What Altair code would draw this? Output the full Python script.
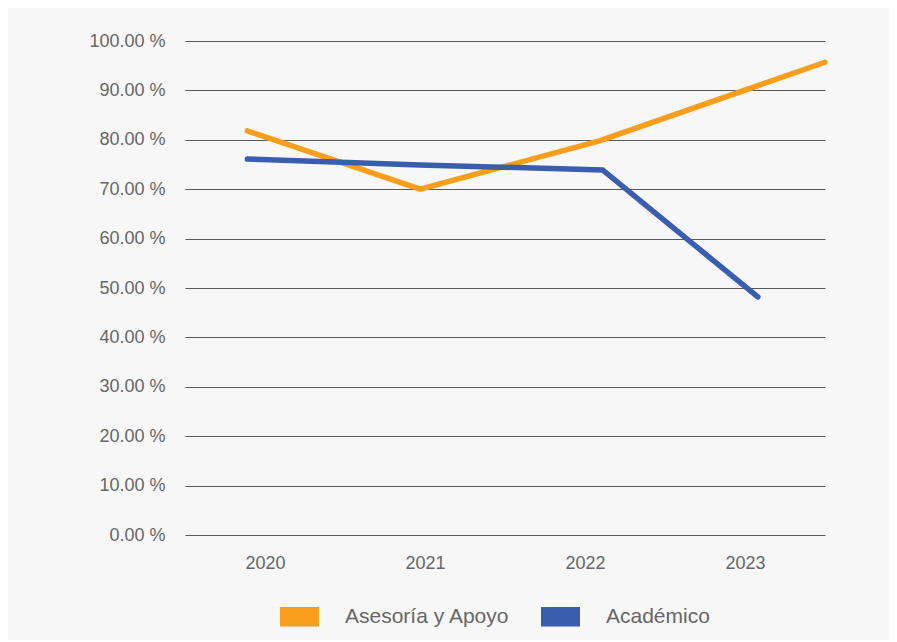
import altair as alt
import pandas as pd

# ---- data ----
years = [2020, 2021, 2022, 2023]
series_names = ["Asesoría y Apoyo", "Académico"]
series_colors = ["#F99D1C", "#3A5DAE"]

# x values as drawn in the reference (lines are slightly offset from the year labels)
asesoria_x = [2019.89, 2020.97, 2022.09, 2023.5]
asesoria_y = [81.8, 70.0, 79.8, 95.7]
academico_x = [2019.89, 2020.97, 2022.11, 2023.08]
academico_y = [76.1, 74.9, 73.9, 48.2]

y_ticks = [0, 10, 20, 30, 40, 50, 60, 70, 80, 90, 100]

rows = []
for i, (xv, yv) in enumerate(zip(asesoria_x, asesoria_y)):
    rows.append({"serie": series_names[0], "x": xv, "y": yv, "ord": i})
for i, (xv, yv) in enumerate(zip(academico_x, academico_y)):
    rows.append({"serie": series_names[1], "x": xv, "y": yv, "ord": i})
df = pd.DataFrame(rows)

FONT = "Liberation Sans"
GRAY = "#666666"

chart = (
    alt.Chart(df)
    .mark_line(strokeWidth=5.5, strokeCap="round", strokeJoin="miter")
    .encode(
        x=alt.X(
            "x:Q",
            scale=alt.Scale(domain=[2019.5, 2023.5], nice=False, zero=False),
            axis=alt.Axis(
                values=years,
                format="d",
                title=None,
                grid=False,
                domain=False,
                ticks=False,
                labelPadding=19,
                labelFontSize=18,
                labelColor=GRAY,
                labelFont=FONT,
            ),
        ),
        y=alt.Y(
            "y:Q",
            scale=alt.Scale(domain=[0, 100], nice=False),
            axis=alt.Axis(
                values=y_ticks,
                labelExpr="format(datum.value, '.2f') + ' %'",
                title=None,
                grid=True,
                gridColor="#595959",
                gridWidth=1,
                domain=False,
                ticks=False,
                labelPadding=20,
                labelFontSize=18,
                labelColor=GRAY,
                labelFont=FONT,
            ),
        ),
        color=alt.Color(
            "serie:N",
            scale=alt.Scale(domain=series_names, range=series_colors),
            legend=alt.Legend(
                title=None,
                orient="none",
                direction="horizontal",
                legendX=85,
                legendY=546,
                symbolType="M-1,0H1",
                symbolSize=1521,
                symbolStrokeWidth=19.5,
                labelOffset=16,
                labelLimit=400,
                columnPadding=-8,
                labelFontSize=21,
                labelColor=GRAY,
                labelFont=FONT,
            ),
        ),
        order="ord:Q",
    )
    .properties(
        width=640,
        height=494,
        background="#f7f7f7",
        padding={"left": 177, "top": 33, "right": 64, "bottom": 105},
        autosize=alt.AutoSizeParams(type="none"),
    )
    .configure_view(stroke=None)
)

chart.save("out.html", embed_options={"renderer": "svg", "actions": False})
